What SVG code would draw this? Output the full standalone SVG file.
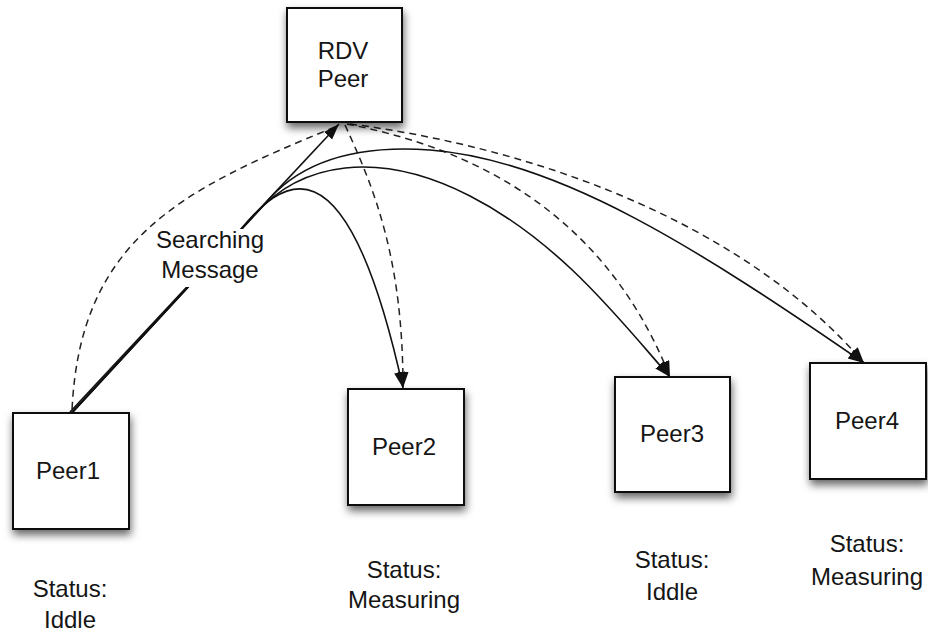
<svg xmlns="http://www.w3.org/2000/svg" width="928" height="632" viewBox="0 0 928 632">
  <defs>
    <filter id="shadow" x="-30%" y="-30%" width="160%" height="170%">
      <feDropShadow dx="1" dy="5" stdDeviation="4" flood-color="#000" flood-opacity="0.6"/>
    </filter>
    <marker id="arrow" markerUnits="userSpaceOnUse" markerWidth="18" markerHeight="13" refX="16" refY="5.5" orient="auto">
      <path d="M0,0 L16,5.5 L0,11 z" fill="#111"/>
    </marker>
    <style>
      .box { fill: #fff; stroke: #111; stroke-width: 2; filter: url(#shadow); }
      .lbl { font-family: "Liberation Sans", Arial, Helvetica, sans-serif; font-size: 24px; fill: #151515; text-anchor: middle; }
      .solid { fill: none; stroke: #111; stroke-width: 1.6; }
      .dash { fill: none; stroke: #222; stroke-width: 1.5; stroke-dasharray: 7 5; }
    </style>
  </defs>
  <rect width="928" height="632" fill="#fff"/>

  <!-- connectors -->
  <g id="connectors">
    <!-- replies from the rendezvous peer (dashed) -->
    <path class="dash" d="M335,127 C180,190 80,240 72,410"/>
    <path class="dash" d="M345,125 C375,190 403,260 403,388" marker-end="url(#arrow)"/>
    <path class="dash" d="M347,124 C455,145 600,200 670,377" marker-end="url(#arrow)"/>
    <path class="dash" d="M350,124 C550,150 750,230 864,363" marker-end="url(#arrow)"/>
    <!-- searching messages from Peer1 (solid) -->
    <path class="solid" d="M70,412 L339,124" marker-end="url(#arrow)"/>
    <path class="solid" d="M72,413 L238,233 C280,180 345,125 403,388" marker-end="url(#arrow)"/>
    <path class="solid" d="M71,414 L252,218 C300,160 380,150 470,196 S620,320 670,377" marker-end="url(#arrow)"/>
    <path class="solid" d="M71,413 L264,205 C300,160 360,145 430,150 C560,160 700,250 864,363" marker-end="url(#arrow)"/>
    <!-- edge label -->
    <rect x="154" y="229" width="116" height="58" fill="#fff"/>
    <text class="lbl" x="210" y="248">Searching</text>
    <text class="lbl" x="210" y="278">Message</text>
  </g>

  <g id="rdv">
    <rect class="box" x="287" y="8" width="115" height="114"/>
    <text class="lbl" x="343" y="59">RDV</text>
    <text class="lbl" x="343" y="87">Peer</text>
  </g>

  <g id="peer1">
    <rect class="box" x="13" y="413" width="116" height="116"/>
    <text class="lbl" x="68" y="479">Peer1</text>
    <text class="lbl" x="70" y="597">Status:</text>
    <text class="lbl" x="70" y="628">Iddle</text>
  </g>

  <g id="peer2">
    <rect class="box" x="348" y="389" width="116" height="116"/>
    <text class="lbl" x="404" y="455">Peer2</text>
    <text class="lbl" x="404" y="578">Status:</text>
    <text class="lbl" x="404" y="608">Measuring</text>
  </g>

  <g id="peer3">
    <rect class="box" x="615" y="377" width="115" height="115"/>
    <text class="lbl" x="672" y="442">Peer3</text>
    <text class="lbl" x="672" y="568">Status:</text>
    <text class="lbl" x="672" y="600">Iddle</text>
  </g>

  <g id="peer4">
    <rect class="box" x="810" y="363" width="116" height="116"/>
    <text class="lbl" x="867" y="429">Peer4</text>
    <text class="lbl" x="867" y="552">Status:</text>
    <text class="lbl" x="867" y="585">Measuring</text>
  </g>
</svg>
